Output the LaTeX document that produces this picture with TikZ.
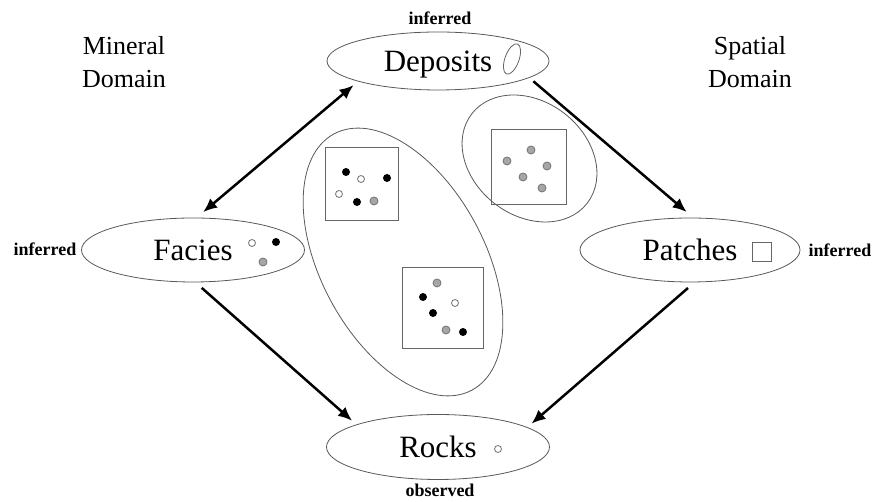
\documentclass[tikz,border=0pt]{standalone}
\usepackage{fontspec}
\setmainfont{Liberation Serif}
\usetikzlibrary{shapes.geometric, arrows.meta}
\begin{document}
\begin{tikzpicture}[x=1pt,y=1pt,
  >={Latex[length=14pt,width=12pt]},
  concept/.style={ellipse, draw=black!65, line width=0.8pt, inner sep=0pt, outer sep=6pt,
    font=\fontsize{31}{31}\selectfont, text height=22pt, text depth=0pt},
  group/.style={ellipse, draw=black!65, line width=0.8pt, inner sep=0pt},
  tag/.style={font=\bfseries\fontsize{18}{18}\selectfont, inner sep=0pt},
  domlabel/.style={font=\fontsize{26}{33}\selectfont, align=center, inner sep=0pt},
  frame/.style={draw=black!60, line width=1pt, inner sep=0pt, minimum size=#1},
  blk/.style={circle, fill=black, inner sep=0pt, minimum size=8pt},
  wht/.style={circle, draw=black!55, fill=white, line width=0.8pt, inner sep=0pt, minimum size=7pt},
  gry/.style={circle, draw=black!55, fill=black!35, line width=0.8pt, inner sep=0pt, minimum size=8pt},
  link/.style={line width=2.5pt, ->},
]
\fill[white] (0,0) rectangle (873,502);
\useasboundingbox (0,0) rectangle (873,502);

% grouping ellipses
\node[group, minimum width=291pt, minimum height=164pt, rotate=-61.7] (gmix) at (403,240) {};
\node[group, minimum width=146pt, minimum height=114pt, rotate=-37.8] (gspat) at (529.5,343.5) {};

% concept ellipses
\node[concept, minimum width=222pt, minimum height=58pt] (dep) at (438,441) {Deposits};
\node[concept, minimum width=223pt, minimum height=64pt] (fac) at (193,252) {Facies};
\node[concept, minimum width=220pt, minimum height=64pt] (pat) at (690,252) {Patches};
\node[concept, minimum width=223pt, minimum height=65pt] (roc) at (438,55) {Rocks};

% icons inside concepts
\node[ellipse, draw=black!60, line width=0.8pt, inner sep=0pt, minimum width=14pt, minimum height=32pt, rotate=-20] (depicon) at (512,443) {};
\node[draw=black!60, line width=1pt, inner sep=0pt, minimum size=19pt] (paticon) at (762,250) {};
\node[wht, minimum size=7pt] (rocicon) at (498,53) {};
\node[wht] (fw) at (252,259) {};
\node[blk] (fb) at (276,260) {};
\node[gry] (fg) at (263,240) {};

% squares
\node[frame=73pt] (s1) at (361.5,317.5) {};
\node[frame=81pt] (s2) at (443,194) {};
\node[frame=75pt] (s3) at (528.5,334.5) {};

% dots in square 1
\node[blk] (a1) at (346,330) {};
\node[wht] (a2) at (361,323) {};
\node[blk] (a3) at (387,324) {};
\node[wht] (a4) at (339,308) {};
\node[blk] (a5) at (357,300) {};
\node[gry] (a6) at (374,301) {};
% dots in square 2
\node[gry] (b1) at (437,219) {};
\node[blk] (b2) at (423,205) {};
\node[wht] (b3) at (455,199) {};
\node[blk] (b4) at (433,189) {};
\node[gry] (b5) at (446,172) {};
\node[blk] (b6) at (463,170) {};
% dots in square 3
\node[gry] (c1) at (531,352) {};
\node[gry] (c2) at (507,341) {};
\node[gry] (c3) at (547,336) {};
\node[gry] (c4) at (523,325) {};
\node[gry] (c5) at (542,314) {};

% arrows
\draw[link, <->] (dep.196) -- (fac.75);
\draw[link] (fac.283) -- (roc.163);
\draw[link] (dep.348) -- (pat.95);
\draw[link] (pat.267) -- (roc.14);

% tags
\node[tag] (t1) at (440,484) {inferred};
\node[tag] (t2) at (45,253) {inferred};
\node[tag] (t3) at (840,252) {inferred};
\node[tag] (t4) at (440,12) {observed};

% domain labels
\node[domlabel] (md) at (124,440) {Mineral\\Domain};
\node[domlabel] (sd) at (750,440) {Spatial\\Domain};
\end{tikzpicture}
\end{document}
